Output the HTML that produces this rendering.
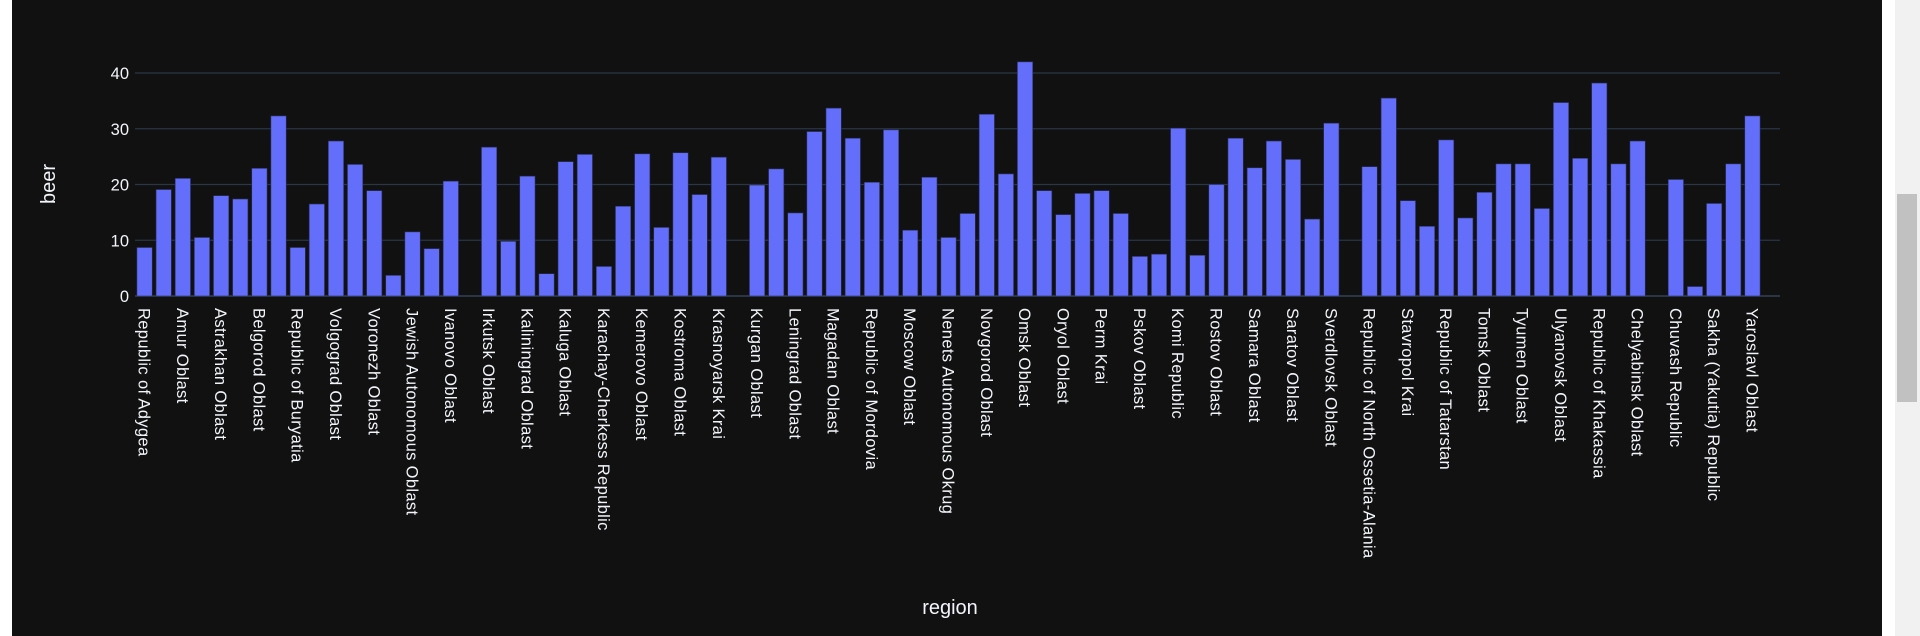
<!DOCTYPE html>
<html><head><meta charset="utf-8"><style>
html,body{margin:0;padding:0;background:#fff;width:1920px;height:636px;overflow:hidden}
#bg{position:absolute;left:12px;top:0;width:1870px;height:636px;background:#111111}
#track{position:absolute;left:1895px;top:0;width:25px;height:636px;background:#f1f1f1}
#thumb{position:absolute;left:1897px;top:194px;width:20px;height:208px;background:#c1c1c1}
svg{position:absolute;left:0;top:0}
text{font-family:"Liberation Sans","DejaVu Sans",sans-serif;fill:#f2f5fa}
</style></head><body>
<div id="bg"></div>
<div id="track"></div>
<div id="thumb"></div>
<svg id="chart" width="1920" height="636"></svg>
<script>
const categories=["Republic of Adygea","Altai Krai","Amur Oblast","Arkhangelsk Oblast","Astrakhan Oblast","Republic of Bashkortostan","Belgorod Oblast","Bryansk Oblast","Republic of Buryatia","Vladimir Oblast","Volgograd Oblast","Vologda Oblast","Voronezh Oblast","Republic of Dagestan","Jewish Autonomous Oblast","Zabaykalsky Krai","Ivanovo Oblast","Republic of Ingushetia","Irkutsk Oblast","Kabardino-Balkar Republic","Kaliningrad Oblast","Republic of Kalmykia","Kaluga Oblast","Kamchatka Krai","Karachay-Cherkess Republic","Republic of Karelia","Kemerovo Oblast","Kirov Oblast","Kostroma Oblast","Krasnodar Krai","Krasnoyarsk Krai","Republic of Crimea","Kurgan Oblast","Kursk Oblast","Leningrad Oblast","Lipetsk Oblast","Magadan Oblast","Mari El Republic","Republic of Mordovia","Moscow","Moscow Oblast","Murmansk Oblast","Nenets Autonomous Okrug","Nizhny Novgorod Oblast","Novgorod Oblast","Novosibirsk Oblast","Omsk Oblast","Orenburg Oblast","Oryol Oblast","Penza Oblast","Perm Krai","Primorsky Krai","Pskov Oblast","Altai Republic","Komi Republic","Tyva Republic","Rostov Oblast","Ryazan Oblast","Samara Oblast","Saint Petersburg","Saratov Oblast","Sakhalin Oblast","Sverdlovsk Oblast","Sevastopol","Republic of North Ossetia-Alania","Smolensk Oblast","Stavropol Krai","Tambov Oblast","Republic of Tatarstan","Tver Oblast","Tomsk Oblast","Tula Oblast","Tyumen Oblast","Udmurt Republic","Ulyanovsk Oblast","Khabarovsk Krai","Republic of Khakassia","Khanty-Mansi Autonomous Okrug","Chelyabinsk Oblast","Chechen Republic","Chuvash Republic","Chukotka Autonomous Okrug","Sakha (Yakutia) Republic","Yamalo-Nenets Autonomous Okrug","Yaroslavl Oblast"];
const beerValues=[8.7,19.1,21.1,10.5,18.0,17.4,22.9,32.3,8.7,16.5,27.8,23.6,18.9,3.7,11.5,8.5,20.6,0,26.7,9.8,21.5,4.0,24.1,25.4,5.3,16.1,25.5,12.3,25.7,18.2,24.9,0,19.9,22.8,14.9,29.5,33.7,28.3,20.4,29.8,11.8,21.3,10.5,14.8,32.6,21.9,42.0,18.9,14.6,18.4,18.9,14.8,7.1,7.5,30.1,7.3,20.0,28.3,23.0,27.8,24.5,13.8,31.0,0,23.2,35.5,17.1,12.5,28.0,14.0,18.6,23.7,23.7,15.7,34.7,24.7,38.2,23.7,27.8,0,20.9,1.7,16.6,23.7,32.3];
const yTicks=[0,10,20,30,40];

const NS="http://www.w3.org/2000/svg";
const svg=document.getElementById('chart');
const L=135,R=1762,GR=1780,Y0=296,PX10=55.75;
const yScale=v=>Y0-v*PX10/10;
const step=(R-L)/categories.length;
const xCenter=i=>L+step*(i+0.5);
function mk(t,a){const e=document.createElementNS(NS,t);for(const k in a)e.setAttribute(k,a[k]);svg.appendChild(e);return e;}

yTicks.forEach(t=>{
  const g=mk('line',{x1:L,x2:GR,y1:yScale(t),y2:yScale(t),stroke:'#2a3646','stroke-width':t===0?2:1.2});
  
  
  const tx=mk('text',{x:129,y:yScale(t)+6,'text-anchor':'end','font-size':16.5});
  tx.textContent=t;
  
  
});

const bw=step*0.8;
beerValues.forEach((v,i)=>{
  const h=Y0-yScale(v);
  const r=mk('rect',{x:xCenter(i)-bw/2,y:yScale(v),width:bw,height:h,fill:'#636efa',stroke:'#2a2f5a','stroke-width':0.6});
  
  
});

categories.forEach((c,i)=>{
  if(i%2!==0)return;
  const x=xCenter(i);
  const t=mk('text',{x:0,y:0,transform:`translate(${x-6},308) rotate(90)`,'font-size':16.5,'letter-spacing':0.35});
  t.textContent=c;
  
  
});

const xt=mk('text',{x:950,y:614,'text-anchor':'middle','font-size':20});
xt.textContent='region';


const yt=mk('text',{x:0,y:0,transform:'translate(55,184) rotate(-90)','text-anchor':'middle','font-size':20});
yt.textContent='beer';


</script>
</body></html>
